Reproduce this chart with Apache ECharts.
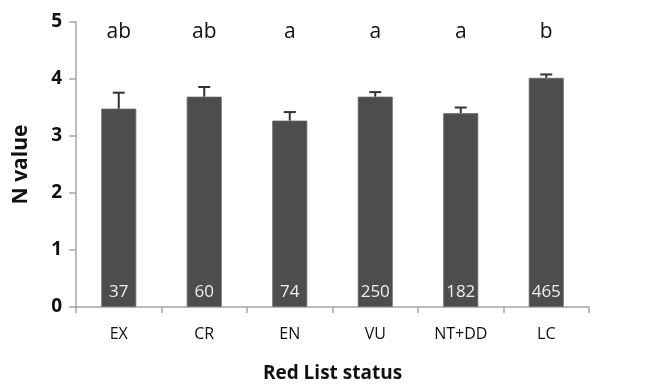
<!DOCTYPE html>
<html>
<head>
<meta charset="utf-8">
<script src="https://cdn.jsdelivr.net/npm/echarts@6/dist/echarts.min.js"></script>
<style>
html,body{margin:0;padding:0;background:#fff;}
#chart{width:646px;height:386px;}
</style>
</head>
<body>
<div id="chart"></div>
<script>
// Red List categories and mean N value per category
const categories = ['EX', 'CR', 'EN', 'VU', 'NT+DD', 'LC'];
const meanValues = [3.48, 3.69, 3.27, 3.69, 3.40, 4.02];
const errorTops = [3.76, 3.86, 3.42, 3.77, 3.50, 4.08];
const sampleSizes = [37, 60, 74, 250, 182, 465];
const groupLetters = ['ab', 'ab', 'a', 'a', 'a', 'b'];
const yTicks = [0, 1, 2, 3, 4, 5];

const font = '"Open Sans", "DejaVu Sans", sans-serif';
const axisGrey = '#a6a6a6';

const chart = echarts.init(document.getElementById('chart'));
chart.setOption({
  animation: false,
  backgroundColor: '#fff',
  grid: { left: 76, right: 57, top: 22, bottom: 79, containLabel: false, outerBoundsMode: 'none' },
  xAxis: {
    type: 'category',
    data: categories,
    boundaryGap: true,
    name: 'Red List status',
    nameLocation: 'middle',
    nameGap: 57,
    nameTextStyle: { fontFamily: font, fontWeight: 'bold', fontSize: 19, color: '#111' },
    axisLine: { lineStyle: { color: axisGrey, width: 1.5 } },
    axisTick: { show: true, length: 6, lineStyle: { color: axisGrey, width: 1.5 } },
    axisLabel: { fontFamily: font, fontSize: 16, color: '#111', margin: 19 }
  },
  yAxis: {
    type: 'value',
    min: yTicks[0],
    max: yTicks[yTicks.length - 1],
    interval: 1,
    name: 'N value',
    nameLocation: 'middle',
    nameGap: 44,
    nameRotate: 90,
    nameTextStyle: { fontFamily: font, fontWeight: 'bold', fontSize: 21, color: '#111' },
    axisLine: { show: true, lineStyle: { color: axisGrey, width: 1.5 } },
    axisTick: { show: true, inside: false, length: 7, lineStyle: { color: axisGrey, width: 1.5 } },
    axisLabel: { fontFamily: font, fontSize: 19, fontWeight: 'bold', color: '#111', margin: 14 },
    splitLine: { show: false }
  },
  series: [
    {
      type: 'bar',
      data: meanValues,
      barWidth: 35,
      itemStyle: { color: '#4d4d4d', borderColor: '#6a6a6a', borderWidth: 0.8 },
      label: {
        show: true,
        position: 'insideBottom',
        distance: 6,
        formatter: p => String(sampleSizes[p.dataIndex]),
        color: '#eeeeee',
        fontFamily: font,
        fontSize: 17
      },
      z: 2
    },
    {
      // upper error whiskers with caps
      type: 'custom',
      data: categories.map((c, i) => [i, meanValues[i], errorTops[i]]),
      renderItem: (params, api) => {
        const base = api.coord([api.value(0), api.value(1)]);
        const top = api.coord([api.value(0), api.value(2)]);
        const half = 6;
        const style = { stroke: '#333', lineWidth: 2 };
        return {
          type: 'group',
          children: [
            { type: 'line', shape: { x1: base[0], y1: base[1], x2: top[0], y2: top[1] }, style },
            { type: 'line', shape: { x1: top[0] - half, y1: top[1], x2: top[0] + half, y2: top[1] }, style }
          ]
        };
      },
      z: 3
    },
    {
      // significance group letters above each category
      type: 'custom',
      data: categories.map((c, i) => [i, 4.83, groupLetters[i]]),
      renderItem: (params, api) => {
        const pt = api.coord([api.value(0), api.value(1)]);
        return {
          type: 'text',
          style: {
            text: groupLetters[params.dataIndex],
            x: pt[0],
            y: pt[1],
            align: 'center',
            verticalAlign: 'middle',
            fontFamily: font,
            fontSize: 21,
            fill: '#111'
          }
        };
      },
      z: 4
    }
  ]
});
</script>
</body>
</html>
